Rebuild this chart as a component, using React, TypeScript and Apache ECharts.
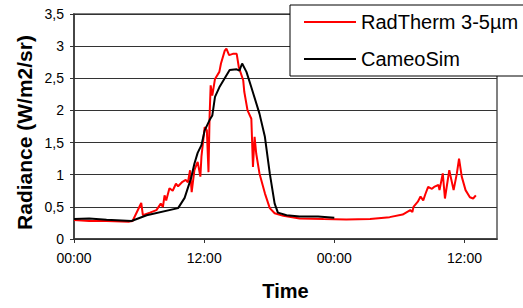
import React, { useEffect, useRef } from "react";
import * as echarts from "echarts";

// time in hours from the first 00:00
const radTime = [0, 1.4, 3.0, 5.1, 5.4, 6.2, 6.35, 7.0, 7.6, 8.0, 8.2, 8.35, 8.5, 8.8, 9.1, 9.4, 9.6, 10.0, 10.3, 10.5, 10.7, 10.85, 11.1, 11.4, 11.65, 11.75, 12.05, 12.25, 12.4, 12.5, 12.6, 12.75, 13.0, 13.4, 13.55, 13.9, 14.05, 14.3, 14.65, 15.0, 15.2, 15.6, 15.7, 16.0, 16.35, 16.5, 16.65, 16.8, 17.1, 17.6, 18.05, 18.5, 19.3, 20.8, 23.0, 25.1, 27.3, 29.1, 30.3, 31.0, 31.2, 31.3, 31.7, 31.95, 32.2, 32.4, 32.65, 33.0, 33.2, 33.6, 33.7, 34.0, 34.2, 34.6, 35.0, 35.3, 35.5, 35.75, 36.1, 36.5, 36.8, 37.05];
const radValues = [0.295, 0.28, 0.28, 0.27, 0.28, 0.56, 0.37, 0.41, 0.45, 0.55, 0.5, 0.68, 0.6, 0.79, 0.75, 0.86, 0.82, 0.89, 0.92, 0.88, 1.07, 0.73, 1.07, 1.2, 0.97, 1.28, 1.74, 1.69, 1.04, 1.9, 2.39, 2.23, 2.49, 2.6, 2.73, 2.93, 2.96, 2.86, 2.88, 2.88, 2.67, 2.47, 2.29, 2.0, 1.87, 1.12, 1.59, 1.33, 1.02, 0.71, 0.48, 0.4, 0.36, 0.32, 0.31, 0.305, 0.31, 0.34, 0.38, 0.45, 0.42, 0.5, 0.58, 0.66, 0.6, 0.7, 0.81, 0.78, 0.81, 0.84, 0.76, 1.02, 0.63, 1.07, 0.76, 1.02, 1.25, 0.97, 0.76, 0.65, 0.63, 0.68];

const camTime = [0, 1.4, 3.0, 5.3, 6.7, 9.6, 10.2, 10.8, 11.1, 11.4, 11.75, 12.05, 12.5, 12.75, 13.0, 13.4, 14.35, 15.0, 15.25, 15.5, 15.9, 16.35, 17.1, 17.6, 18.05, 18.5, 18.8, 19.6, 20.8, 22.5, 24.0];
const camValues = [0.31, 0.32, 0.3, 0.28, 0.37, 0.48, 0.64, 0.95, 1.17, 1.34, 1.46, 1.69, 1.85, 1.92, 2.21, 2.36, 2.63, 2.64, 2.62, 2.73, 2.6, 2.36, 1.95, 1.59, 1.02, 0.55, 0.41, 0.37, 0.35, 0.35, 0.33];

const seriesNames = ["RadTherm 3-5µm", "CameoSim"];
const yTitle = "Radiance (W/m2/sr)";
const xTitle = "Time";

const FONT = "'Liberation Sans', Arial, sans-serif";

export default function App() {
  const ref = useRef<HTMLDivElement>(null);
  useEffect(() => {
    document.body.style.margin = "0";
    if (!ref.current) return;
    const chart = echarts.init(ref.current, undefined, { renderer: "svg" });
    const radData = radTime.map((t, i) => [t, radValues[i]]);
    const camData = camTime.map((t, i) => [t, camValues[i]]);
    chart.setOption({
      animation: false,
      backgroundColor: "#fff",
      grid: {
        left: 74,
        right: 26,
        top: 14,
        bottom: 69,
        show: true,
        borderColor: "#808080",
        borderWidth: 2,
        backgroundColor: "transparent",
      },
      xAxis: {
        type: "value",
        min: 0,
        max: 39,
        interval: 12,
        axisLine: { show: true, lineStyle: { color: "#333", width: 1.5 } },
        axisTick: { show: true, length: 4, lineStyle: { color: "#333" } },
        splitLine: { show: false },
        axisLabel: {
          showMaxLabel: false,
          margin: 12,
          color: "#000",
          fontSize: 14,
          fontFamily: FONT,
          formatter: (v: number) => {
            const h = Math.round(v) % 24;
            return (h < 10 ? "0" : "") + h + ":00";
          },
        },
      },
      yAxis: {
        type: "value",
        min: 0,
        max: 3.5,
        interval: 0.5,
        axisLine: { show: true, lineStyle: { color: "#333", width: 1.5 } },
        axisTick: { show: true, length: 4, lineStyle: { color: "#333" } },
        splitLine: { show: true, lineStyle: { color: "#333", width: 1 } },
        axisLabel: {
          margin: 10,
          color: "#000",
          fontSize: 14,
          fontFamily: FONT,
          formatter: (v: number) => String(v).replace(".", ","),
        },
      },
      legend: {
        orient: "vertical",
        left: 290,
        top: 5,
        padding: [7, 24, 7, 14],
        itemGap: 17,
        itemWidth: 52,
        itemHeight: 2,
        icon: "rect",
        selectedMode: false,
        backgroundColor: "#fff",
        borderColor: "#000",
        borderWidth: 1,
        borderRadius: 0,
        textStyle: { fontSize: 20, fontFamily: FONT, color: "#000" },
        data: seriesNames,
      },
      graphic: [
        {
          type: "text",
          x: 24,
          y: 132.5,
          rotation: Math.PI / 2,
          style: {
            text: yTitle,
            fontSize: 21,
            fontWeight: "bold",
            fontFamily: FONT,
            fill: "#000",
            align: "center",
            verticalAlign: "middle",
          },
        },
        {
          type: "text",
          x: 285.5,
          y: 291,
          style: {
            text: xTitle,
            fontSize: 20,
            fontWeight: "bold",
            fontFamily: FONT,
            fill: "#000",
            align: "center",
            verticalAlign: "middle",
          },
        },
      ],
      series: [
        {
          name: seriesNames[0],
          type: "line",
          data: radData,
          showSymbol: false,
          symbol: "none",
          lineStyle: { color: "#ff0000", width: 2 },
          itemStyle: { color: "#ff0000" },
          z: 2,
        },
        {
          name: seriesNames[1],
          type: "line",
          data: camData,
          showSymbol: false,
          symbol: "none",
          lineStyle: { color: "#000000", width: 2 },
          itemStyle: { color: "#000000" },
          z: 3,
        },
      ],
    });
    return () => chart.dispose();
  }, []);
  return (
    <div
      ref={ref}
      style={{ position: "fixed", left: 0, top: 0, width: 523, height: 308 }}
    />
  );
}
